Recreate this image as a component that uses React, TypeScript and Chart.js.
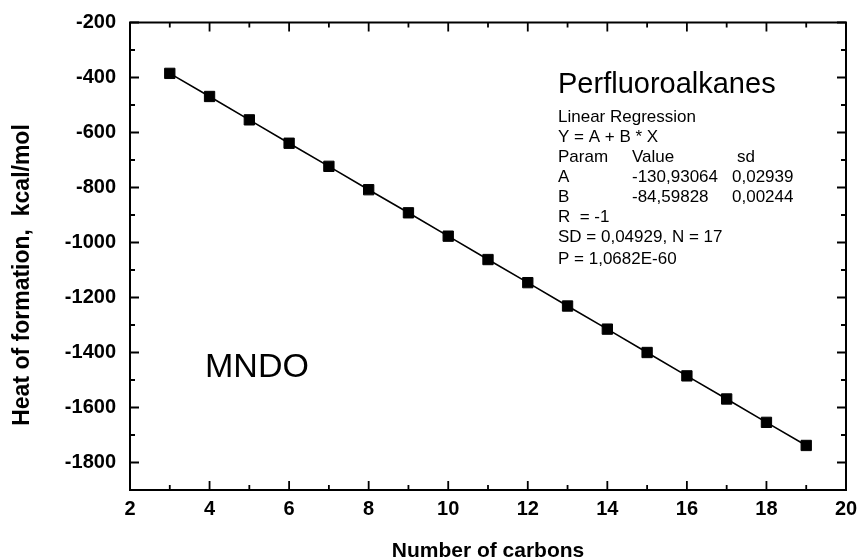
import React, { useEffect, useRef } from "react";
import { Chart, registerables } from "chart.js";

Chart.register(...registerables);

const xValues = [3, 4, 5, 6, 7, 8, 9, 10, 11, 12, 13, 14, 15, 16, 17, 18, 19];
const yValues = [-385, -469, -554, -639, -723, -808, -892, -977, -1062, -1146, -1231, -1315, -1400, -1485, -1569, -1654, -1738];

const xMajorTicks = [2, 4, 6, 8, 10, 12, 14, 16, 18, 20];
const xMinorTicks = [3, 5, 7, 9, 11, 13, 15, 17, 19];
const yMajorTicks = [-1800, -1600, -1400, -1200, -1000, -800, -600, -400, -200];
const yMinorTicks = [-1900, -1700, -1500, -1300, -1100, -900, -700, -500, -300];

const xTitle = "Number of carbons";
const yTitle = "Heat of formation,  kcal/mol";
const titleText = "Perfluoroalkanes";
const methodText = "MNDO";
const regressionLines = [
  ["Linear Regression"],
  ["Y = A + B * X"],
  ["Param", "Value", "sd"],
  ["A", "-130,93064", "0,02939"],
  ["B", "-84,59828", "0,00244"],
  ["R  = -1"],
  ["SD = 0,04929, N = 17"],
  ["P = 1,0682E-60"],
];

const FONT = "'Liberation Sans', Arial, sans-serif";

const framePlugin = {
  id: "frameTicks",
  afterDraw(chart: any) {
    const { ctx, chartArea } = chart;
    const { left, right, top, bottom } = chartArea;
    const xs = chart.scales.x;
    const ys = chart.scales.y;
    ctx.save();
    ctx.strokeStyle = "#000";
    ctx.lineWidth = 2;
    ctx.strokeRect(left, top, right - left, bottom - top);
    ctx.lineWidth = 1.8;
    const major = 9;
    const minor = 5;
    ctx.beginPath();
    const xt = (v: number, len: number) => {
      const px = xs.getPixelForValue(v);
      ctx.moveTo(px, bottom);
      ctx.lineTo(px, bottom - len);
      ctx.moveTo(px, top);
      ctx.lineTo(px, top + len);
    };
    const yt = (v: number, len: number) => {
      const py = ys.getPixelForValue(v);
      ctx.moveTo(left, py);
      ctx.lineTo(left + len, py);
      ctx.moveTo(right, py);
      ctx.lineTo(right - len, py);
    };
    xMajorTicks.forEach((v) => xt(v, major));
    xMinorTicks.forEach((v) => xt(v, minor));
    yMajorTicks.forEach((v) => yt(v, major));
    yMinorTicks.forEach((v) => yt(v, minor));
    ctx.stroke();

    ctx.fillStyle = "#000";
    ctx.save();
    ctx.translate(23, 275);
    ctx.rotate(-Math.PI / 2);
    ctx.textAlign = "center";
    ctx.textBaseline = "middle";
    ctx.font = `bold 23px ${FONT}`;
    ctx.fillText(yTitle, 0, 0);
    ctx.restore();

    ctx.textBaseline = "alphabetic";
    ctx.textAlign = "left";
    ctx.font = `29px ${FONT}`;
    ctx.fillText(titleText, 558, 93);
    ctx.font = `34px ${FONT}`;
    ctx.fillText(methodText, 205, 377);
    ctx.font = `17px ${FONT}`;
    const baselines = [121.7, 141.7, 161.7, 181.7, 201.7, 221.7, 241.7, 264];
    const cols = [558, 632, 732];
    regressionLines.forEach((row, i) => {
      ctx.fillText(row[0], cols[0], baselines[i]);
      if (row.length > 1) {
        ctx.fillText(row[1], cols[1], baselines[i]);
        ctx.fillText(row[2], i === 2 ? 737 : cols[2], baselines[i]);
      }
    });
    ctx.restore();
  },
};

export default function App() {
  const ref = useRef<HTMLCanvasElement>(null);
  useEffect(() => {
    if (!ref.current) return;
    const chart = new Chart(ref.current, {
      type: "line",
      data: {
        datasets: [
          {
            data: xValues.map((x, i) => ({ x, y: yValues[i] })),
            borderColor: "#000",
            backgroundColor: "#000",
            borderWidth: 1.6,
            pointStyle: "rect",
            pointRadius: 7.3,
            pointBorderWidth: 1,
            pointBackgroundColor: "#000",
            pointBorderColor: "#000",
            tension: 0,
          },
        ],
      },
      options: {
        animation: false,
        responsive: false,
        layout: { padding: { top: 22.5, right: 14, left: 0, bottom: 0 } },
        plugins: { legend: { display: false }, tooltip: { enabled: false } },
        scales: {
          x: {
            type: "linear",
            min: 2,
            max: 20,
            grid: { display: false, drawTicks: false },
            border: { display: false },
            afterBuildTicks: (s: any) => {
              s.ticks = xMajorTicks.map((value) => ({ value }));
            },
            afterFit: (s: any) => {
              s.height = 70;
              s.paddingLeft = 0;
              s.paddingRight = 0;
            },
            ticks: {
              color: "#000",
              padding: 7,
              maxRotation: 0,
              font: { family: FONT, size: 20, weight: "bold" },
              callback: (v: any) => String(v),
            },
            title: {
              display: true,
              text: xTitle,
              color: "#000",
              font: { family: FONT, size: 21, weight: "bold", lineHeight: 0.8 },
              padding: { top: 0, bottom: 0 },
            },
          },
          y: {
            type: "linear",
            min: -1900,
            max: -200,
            grid: { display: false, drawTicks: false },
            border: { display: false },
            afterBuildTicks: (s: any) => {
              s.ticks = yMajorTicks.map((value) => ({ value }));
            },
            afterFit: (s: any) => {
              s.width = 130;
              s.paddingTop = 0;
              s.paddingBottom = 0;
            },
            ticks: {
              color: "#000",
              padding: 14,
              font: { family: FONT, size: 20, weight: "bold" },
              callback: (v: any) => String(v),
            },
            title: { display: false },
          },
        },
      },
      plugins: [framePlugin],
    });
    return () => chart.destroy();
  }, []);
  return (
    <div style={{ position: "fixed", left: 0, top: 0, width: 860, height: 560, background: "#fff" }}>
      <canvas ref={ref} width={860} height={560} style={{ display: "block" }} />
    </div>
  );
}
